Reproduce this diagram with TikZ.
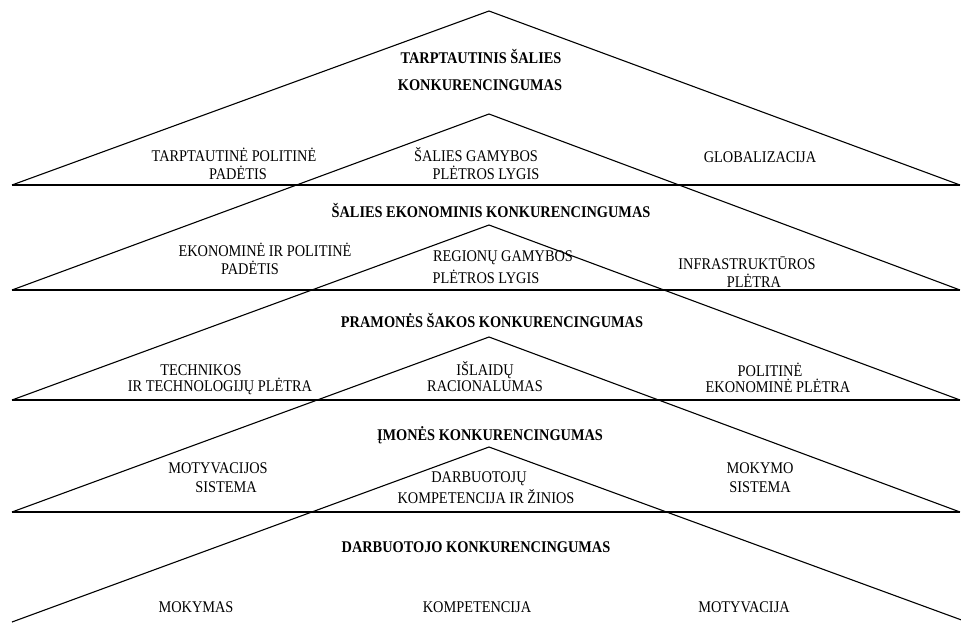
\documentclass[tikz,border=0pt]{standalone}
\usepackage{fontspec}
\setmainfont[FakeStretch=0.88]{Liberation Serif}
\begin{document}
\begin{tikzpicture}[x=1pt,y=-1pt,
  side/.style={line width=1.1pt, line join=miter},
  basel/.style={line width=1.5pt},
  lbl/.style={font=\fontsize{16.3}{18}\selectfont, inner sep=0pt, anchor=center},
  ttl/.style={font=\fontsize{16.3}{18}\selectfont\bfseries, inner sep=0pt, anchor=center}]
\useasboundingbox (0,0) rectangle (961,623);
\fill[white] (0,0) rectangle (961,623);

% corners of the five stacked triangles
\coordinate (A1) at (489,11);  \coordinate (L1) at (12,185); \coordinate (R1) at (960,185);
\coordinate (A2) at (489,114); \coordinate (L2) at (12,290); \coordinate (R2) at (960,290);
\coordinate (A3) at (489,225); \coordinate (L3) at (12,400); \coordinate (R3) at (960,400);
\coordinate (A4) at (489,337); \coordinate (L4) at (12,512); \coordinate (R4) at (960,512);
\coordinate (A5) at (489,447); \coordinate (L5) at (12,622); \coordinate (R5) at (967,622);

\foreach \i in {1,...,5}{ \draw[side] (L\i) -- (A\i) -- (R\i); }
\foreach \i in {1,...,4}{ \draw[basel] (L\i) -- (R\i); }

% level 1
\node[ttl] (t1a) at (481,57) {TARPTAUTINIS ŠALIES};
\node[ttl] (t1b) at (480,85) {KONKURENCINGUMAS};
\node[lbl] (l1a) at (234,155) {TARPTAUTINĖ POLITINĖ};
\node[lbl] (l1b) at (238,173) {PADĖTIS};
\node[lbl] (c1a) at (476,155) {ŠALIES GAMYBOS};
\node[lbl] (c1b) at (486,173) {PLĖTROS LYGIS};
\node[lbl] (r1)  at (760,157) {GLOBALIZACIJA};

% level 2
\node[ttl] (t2)  at (491,211) {ŠALIES EKONOMINIS KONKURENCINGUMAS};
\node[lbl] (l2a) at (265,250) {EKONOMINĖ IR POLITINĖ};
\node[lbl] (l2b) at (250,268) {PADĖTIS};
\node[lbl] (c2a) at (503,258) {REGIONŲ GAMYBOS};
\node[lbl] (c2b) at (486,277) {PLĖTROS LYGIS};
\node[lbl] (r2a) at (747,263) {INFRASTRUKTŪROS};
\node[lbl] (r2b) at (754,281) {PLĖTRA};

% level 3
\node[ttl] (t3)  at (492,321) {PRAMONĖS ŠAKOS KONKURENCINGUMAS};
\node[lbl] (l3a) at (201,370) {TECHNIKOS};
\node[lbl] (l3b) at (220,386) {IR TECHNOLOGIJŲ PLĖTRA};
\node[lbl] (c3a) at (485,370) {IŠLAIDŲ};
\node[lbl] (c3b) at (485,386) {RACIONALUMAS};
\node[lbl] (r3a) at (770,370) {POLITINĖ};
\node[lbl] (r3b) at (778,386) {EKONOMINĖ PLĖTRA};

% level 4
\node[ttl] (t4)  at (490,435) {ĮMONĖS KONKURENCINGUMAS};
\node[lbl] (l4a) at (218,468) {MOTYVACIJOS};
\node[lbl] (l4b) at (226,487) {SISTEMA};
\node[lbl] (c4a) at (479,479) {DARBUOTOJŲ};
\node[lbl] (c4b) at (486,497) {KOMPETENCIJA IR ŽINIOS};
\node[lbl] (r4a) at (760,468) {MOKYMO};
\node[lbl] (r4b) at (760,487) {SISTEMA};

% level 5
\node[ttl] (t5)  at (476,547) {DARBUOTOJO KONKURENCINGUMAS};
\node[lbl] (l5)  at (196,607) {MOKYMAS};
\node[lbl] (c5)  at (477,607) {KOMPETENCIJA};
\node[lbl] (r5)  at (744,607) {MOTYVACIJA};
\end{tikzpicture}
\end{document}
